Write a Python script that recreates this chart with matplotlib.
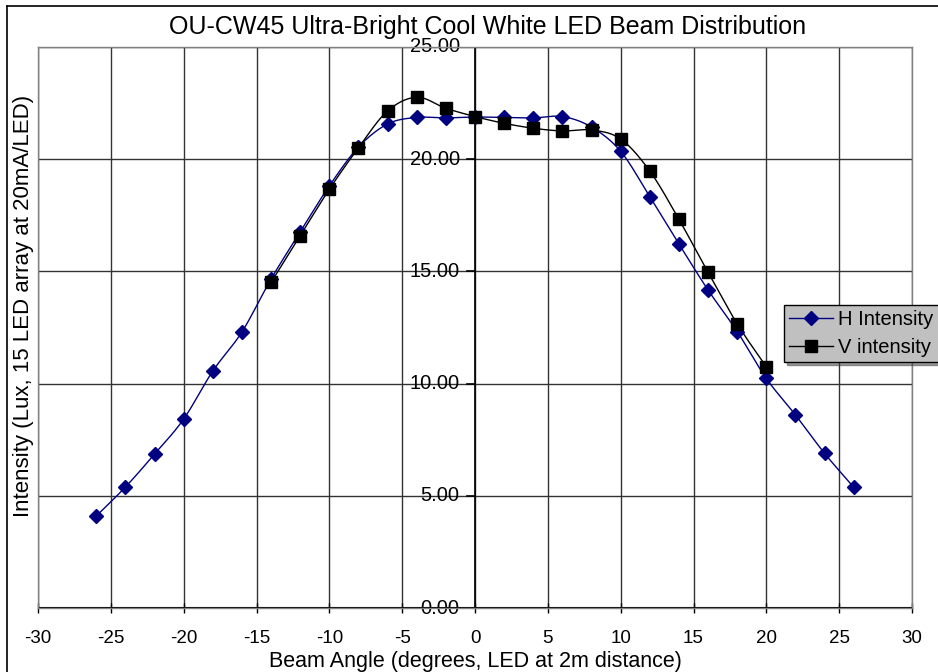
import numpy as np
import matplotlib.pyplot as plt
from matplotlib.lines import Line2D

plt.rcParams['font.family'] = ['Liberation Sans', 'DejaVu Sans']

# ------------------------------------------
# DATA
# ------------------------------------------
h_angle = [-26, -24, -22, -20, -18, -16, -14, -12, -10, -8, -6, -4, -2, 0,
           2, 4, 6, 8, 10, 12, 14, 16, 18, 20, 22, 24, 26]
h_intensity = [4.10, 5.39, 6.86, 8.42, 10.56, 12.30, 14.66, 16.76, 18.81, 20.54,
               21.57, 21.86, 21.84, 21.88, 21.86, 21.84, 21.90, 21.43, 20.35, 18.33,
               16.22, 14.17, 12.32, 10.23, 8.60, 6.89, 5.38]

v_angle = [-14, -12, -10, -8, -6, -4, -2, 0, 2, 4, 6, 8, 10, 12, 14, 16, 18, 20]
v_intensity = [14.51, 16.59, 18.66, 20.51, 22.15, 22.76, 22.27, 21.90, 21.60, 21.38,
               21.26, 21.30, 20.90, 19.47, 17.32, 14.96, 12.66, 10.75]

x_ticks = [-30, -25, -20, -15, -10, -5, 0, 5, 10, 15, 20, 25, 30]
y_ticks = [0, 5, 10, 15, 20, 25]


# smoothed line like Excel (Catmull-Rom through the data points)
def smooth(xs, ys, n=20):
    p = np.column_stack([xs, ys]).astype(float)
    p = np.vstack([p[0], p, p[-1]])
    out = []
    t = np.linspace(0, 1, n, endpoint=False)[:, None]
    for i in range(1, len(p) - 2):
        p0, p1, p2, p3 = p[i - 1], p[i], p[i + 1], p[i + 2]
        seg = 0.5 * ((2 * p1) + (-p0 + p2) * t + (2 * p0 - 5 * p1 + 4 * p2 - p3) * t ** 2
                     + (-p0 + 3 * p1 - 3 * p2 + p3) * t ** 3)
        out.append(seg)
    out.append(p[-2][None, :])
    out = np.vstack(out)
    return out[:, 0], out[:, 1]


fig = plt.figure(figsize=(9.38, 6.72), dpi=100)
ax = fig.add_axes([38 / 938, 64 / 672, 874 / 938, 561 / 672])

# outer chart border (left and top visible)
fig.add_artist(Line2D([7 / 938, 7 / 938], [0, 1 - 6 / 672], transform=fig.transFigure,
                      color='black', lw=1.2))
fig.add_artist(Line2D([7 / 938, 1], [1 - 6 / 672, 1 - 6 / 672], transform=fig.transFigure,
                      color='black', lw=1.2))

ax.set_xlim(-30, 30)
ax.set_ylim(0, 25)
ax.set_xticks(x_ticks)
ax.set_yticks(y_ticks)
ax.grid(True, color='#333333', lw=1.0)
ax.set_axisbelow(True)

for s in ax.spines.values():
    s.set_color('#808080')
    s.set_linewidth(1.0)

# axis lines through zero
ax.axvline(0, color='black', lw=1.2, zorder=1.5)
ax.axhline(0, color='black', lw=1.5, zorder=1.5)

# x ticks below, crossing the zero line
ax.tick_params(axis='x', direction='inout', length=7, width=1, labelsize=13.5, pad=12)
ax.set_xticklabels([str(v) for v in x_ticks])

# y tick labels sit next to the zero line
ax.tick_params(axis='y', left=False, labelleft=False)
for v in y_ticks:
    ax.text(-1.05, v, f'{v:.2f}', ha='right', va='center', fontsize=14.5, zorder=1.6)
    ax.plot([-0.55, 0], [v, v], color='black', lw=1.2, zorder=1.6)

hx, hy = smooth(h_angle, h_intensity)
vx, vy = smooth(v_angle, v_intensity)
ax.plot(hx, hy, color='#000080', lw=1.0, zorder=3)
ax.plot(h_angle, h_intensity, ls='none', marker='D', ms=7, color='#000080', zorder=4)
ax.plot(vx, vy, color='black', lw=1.0, zorder=3)
ax.plot(v_angle, v_intensity, ls='none', marker='s', ms=8.5, color='black', zorder=5)

fig.text(488 / 938, 1 - 27 / 672, 'OU-CW45 Ultra-Bright Cool White LED Beam Distribution',
         ha='center', va='center', fontsize=18)
fig.text(475 / 938, 1 - 661 / 672, 'Beam Angle (degrees, LED at 2m distance)',
         ha='center', va='center', fontsize=15.5)
fig.text(24 / 938, 1 - 306 / 672, 'Intensity (Lux, 15 LED array at 20mA/LED)',
         ha='center', va='center', rotation=90, fontsize=16)

h_handle = Line2D([], [], color='#000080', lw=1.0, marker='D', ms=7)
v_handle = Line2D([], [], color='black', lw=1.0, marker='s', ms=8.5)
leg = fig.legend([h_handle, v_handle], ['H Intensity', 'V intensity'],
                 loc='upper left', bbox_to_anchor=(784 / 938, 1 - 305 / 672),
                 fontsize=14.5, frameon=True, fancybox=False, shadow=True,
                 borderpad=0.25, handlelength=2.2, handletextpad=0.25,
                 labelspacing=0.45, borderaxespad=0)
leg.get_frame().set_facecolor('#c0c0c0')
leg.get_frame().set_edgecolor('black')
leg.get_frame().set_alpha(1)

fig.savefig('out.png', dpi=100)
